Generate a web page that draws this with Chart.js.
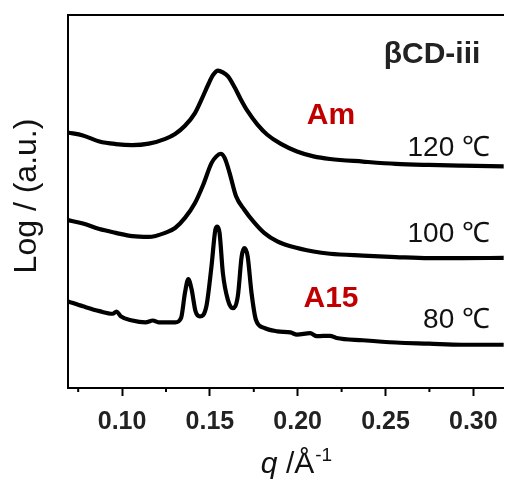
<!DOCTYPE html>
<html>
<head>
<meta charset="utf-8">
<script src="https://cdn.jsdelivr.net/npm/chart.js@4/dist/chart.umd.min.js"></script>
<style>
  html, body { margin: 0; padding: 0; background: #fff; }
</style>
</head>
<body>
<canvas id="saxsChart" width="509" height="482"></canvas>
<script>
// SAXS curves (q in 1/A, log intensity in arbitrary units)
const q120 = [0.0692, 0.0777, 0.0871, 0.0964, 0.1058, 0.1152, 0.1246, 0.1302, 0.1358, 0.1415, 0.1452, 0.1490, 0.1518, 0.1546, 0.1574, 0.1602, 0.1640, 0.1677, 0.1715, 0.1771, 0.1827, 0.1902, 0.1996, 0.2090, 0.2184, 0.2371, 0.2559, 0.2747, 0.2934, 0.3173];
const i120 = [6.85, 6.77, 6.61, 6.54, 6.51, 6.55, 6.68, 6.81, 7.03, 7.37, 7.73, 8.13, 8.39, 8.51, 8.46, 8.36, 8.07, 7.73, 7.42, 7.06, 6.79, 6.55, 6.34, 6.21, 6.14, 6.07, 6.01, 5.98, 5.96, 5.94];

const q100 = [0.0692, 0.0777, 0.0871, 0.0964, 0.1058, 0.1152, 0.1246, 0.1302, 0.1358, 0.1415, 0.1462, 0.1509, 0.1537, 0.1561, 0.1584, 0.1612, 0.1649, 0.1696, 0.1752, 0.1809, 0.1884, 0.1959, 0.2090, 0.2184, 0.2371, 0.2559, 0.2747, 0.2934, 0.3173];
const i100 = [4.50, 4.41, 4.26, 4.16, 4.07, 4.05, 4.16, 4.29, 4.56, 4.96, 5.45, 6.03, 6.21, 6.28, 6.17, 5.77, 5.14, 4.78, 4.44, 4.16, 3.93, 3.80, 3.66, 3.60, 3.55, 3.51, 3.48, 3.48, 3.49];

const q80 = [0.0692, 0.0777, 0.0871, 0.0946, 0.0969, 0.0993, 0.1058, 0.1133, 0.1175, 0.1208, 0.1302, 0.1336, 0.1358, 0.1377, 0.1396, 0.1418, 0.1443, 0.1480, 0.1509, 0.1531, 0.1542, 0.1555, 0.1574, 0.1602, 0.1630, 0.1659, 0.1681, 0.1696, 0.1715, 0.1737, 0.1762, 0.1809, 0.1884, 0.1959, 0.1996, 0.2071, 0.2109, 0.2184, 0.2221, 0.2371, 0.2559, 0.2747, 0.2934, 0.3173];
const i80 = [2.32, 2.19, 2.06, 1.99, 2.05, 1.92, 1.81, 1.76, 1.81, 1.76, 1.76, 1.88, 2.55, 2.92, 2.64, 2.06, 1.92, 2.19, 3.26, 4.24, 4.33, 4.16, 3.08, 2.37, 2.14, 2.46, 3.53, 3.75, 3.53, 2.55, 1.83, 1.61, 1.52, 1.49, 1.43, 1.47, 1.39, 1.40, 1.34, 1.28, 1.22, 1.19, 1.16, 1.16];

const qTicks = [0.10, 0.15, 0.20, 0.25, 0.30];
const qMinorTicks = [0.075, 0.125, 0.175, 0.225, 0.275];
const tempLabels = ['120 \u2103', '100 \u2103', '80 \u2103'];
const phaseLabels = ['Am', 'A15'];
const sampleName = '\u03b2CD-iii';

const FONT = '"Liberation Sans", Arial, sans-serif';

function toPoints(qs, ys) {
    return qs.map((q, i) => ({ x: q, y: ys[i] }));
}

function curve(label, qs, ys) {
    return {
        label,
        data: toPoints(qs, ys),
        borderColor: '#000',
        borderWidth: 4.2,
        pointRadius: 0,
        cubicInterpolationMode: 'monotone',
        borderJoinStyle: 'round',
        borderCapStyle: 'round',
        fill: false
    };
}

// texts and minor ticks drawn on top
const annotate = {
    id: 'annotate',
    afterDraw(chart) {
        const { ctx, scales: { x }, chartArea } = chart;
        ctx.save();

        // minor ticks, shorter than the major ones
        ctx.strokeStyle = '#000';
        ctx.lineWidth = 2;
        qMinorTicks.forEach(v => {
            const px = x.getPixelForValue(v);
            ctx.beginPath();
            ctx.moveTo(px, chartArea.bottom);
            ctx.lineTo(px, chartArea.bottom + 4);
            ctx.stroke();
        });

        ctx.textBaseline = 'alphabetic';

        ctx.fillStyle = '#222';
        ctx.textAlign = 'center';
        ctx.font = 'bold 30px ' + FONT;
        ctx.fillText(sampleName, 432, 63);

        ctx.fillStyle = '#c00000';
        ctx.fillText(phaseLabels[0], 331, 124);
        ctx.fillText(phaseLabels[1], 331, 307);

        ctx.fillStyle = '#111';
        ctx.textAlign = 'right';
        ctx.font = '28px ' + FONT;
        ctx.fillText(tempLabels[0], 490, 156);
        ctx.fillText(tempLabels[1], 490, 242);
        ctx.fillText(tempLabels[2], 490, 328);

        // x title: q /Å^-1
        ctx.textAlign = 'left';
        ctx.fillStyle = '#111';
        const fMain = '30px ' + FONT;
        const fItal = 'italic 30px ' + FONT;
        const fSup = '19px ' + FONT;
        ctx.font = fItal; const wq = ctx.measureText('q').width;
        ctx.font = fMain; const wm = ctx.measureText(' /\u00c5').width;
        ctx.font = fSup; const ws = ctx.measureText('-1').width;
        let tx = 296 - (wq + wm + ws) / 2;
        const ty = 473;
        ctx.font = fItal; ctx.fillText('q', tx, ty); tx += wq;
        ctx.font = fMain; ctx.fillText(' /\u00c5', tx, ty); tx += wm;
        ctx.font = fSup; ctx.fillText('-1', tx + 1, ty - 12);

        // y title
        ctx.translate(36, 196);
        ctx.rotate(-Math.PI / 2);
        ctx.textAlign = 'center';
        ctx.font = '32px ' + FONT;
        ctx.fillText('Log / (a.u.)', 0, 0);

        ctx.restore();
    }
};

new Chart(document.getElementById('saxsChart').getContext('2d'), {
    type: 'line',
    data: {
        datasets: [
            curve('120 C', q120, i120),
            curve('100 C', q100, i100),
            curve('80 C', q80, i80)
        ]
    },
    options: {
        responsive: false,
        animation: false,
        layout: { padding: 0 },
        plugins: { legend: { display: false }, tooltip: { enabled: false } },
        scales: {
            x: {
                type: 'linear',
                position: 'bottom',
                min: 0.0692,
                max: 0.3173,
                afterBuildTicks: s => { s.ticks = qTicks.map(v => ({ value: v })); },
                ticks: {
                    callback: v => v.toFixed(2),
                    font: { family: FONT, size: 25, weight: 'bold' },
                    color: '#222',
                    padding: 11,
                    maxRotation: 0,
                    autoSkip: false
                },
                grid: { display: true, drawOnChartArea: false, tickLength: 8, tickWidth: 2, tickColor: '#000' },
                border: { color: '#000', width: 2 },
                afterFit: s => { s.height = 94; }
            },
            xTop: {
                type: 'linear',
                position: 'top',
                min: 0.0692,
                max: 0.3173,
                ticks: { display: false },
                grid: { display: false },
                border: { color: '#000', width: 2 },
                afterFit: s => { s.height = 15; }
            },
            y: {
                min: 0,
                max: 10,
                ticks: { display: false },
                grid: { display: false },
                border: { color: '#000', width: 2 },
                afterFit: s => { s.width = 68; }
            }
        }
    },
    plugins: [annotate]
});
</script>
</body>
</html>
